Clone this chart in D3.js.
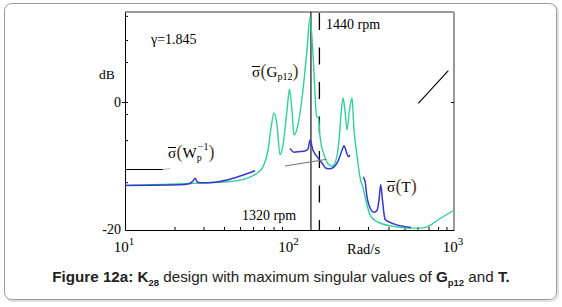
<!DOCTYPE html>
<html>
<head>
<meta charset="utf-8">
<script src="https://cdnjs.cloudflare.com/ajax/libs/d3/7.8.5/d3.min.js"></script>
<style>
  body { margin: 0; background: #fff; }
  svg { display: block; }
</style>
</head>
<body>
<div id="chart"></div>
<script>
// [rad/s, dB]
const sigmaGp12 = [
  [10, -13.0], [24.8, -12.7], [43.5, -12.4], [57.5, -11.7], [63.4, -11.1], [69.0, -10.1],
  [74.0, -7.5], [77.2, -4.0], [80.5, -1.65], [83.9, -3.5], [87.6, -8.2], [91.3, -6.7],
  [96.6, -1.2], [100, 2.1], [103.5, -1.2], [106.5, -5.1], [112.6, -3.5], [120.8, 2.0],
  [127.7, 8.2], [133.3, 13.4], [139.0, 7.5], [146.3, -2.2], [150.1, -2.4], [153.2, -5.3],
  [162.1, -8.2], [171.4, -9.6], [181.2, -10.0], [191.7, -9.0], [200, -5.9], [205.6, -2.0],
  [211.4, 0.7], [217.3, -1.2], [223.7, -4.3], [231.5, -1.2], [239.9, 0.7], [246.7, -4.3],
  [256.2, -7.9], [268.5, -11.8], [280, -13.4], [294.6, -15.9], [308.4, -17.6], [331, -18.5],
  [354.8, -18.9], [448.7, -19.5], [540.6, -19.7], [621, -19.7], [685, -19.5], [822, -18.2],
  [1000, -16.9]
];

// sigma(T) is drawn in three pieces in the original
const sigmaT1 = [
  [10, -13.0], [21.6, -12.9], [24.8, -12.7], [25.9, -12.3], [26.7, -11.9], [27.4, -12.4],
  [28.6, -12.6], [35.2, -12.5], [46.6, -11.8], [61.7, -10.7]
];
const sigmaT2 = [
  [100.7, -7.2], [106.5, -7.8], [115.9, -7.7], [124.3, -7.6], [129.5, -7.3], [133.3, -5.9],
  [139.0, -7.5], [147.0, -8.5], [157.6, -9.5], [166.8, -10.3], [176.3, -10.4], [186.5, -10.1],
  [197.3, -9.2], [208.5, -7.5], [214.4, -6.8], [222.6, -7.9], [228.4, -8.5], [233.3, -8.2]
];
const sigmaT3 = [
  [280, -11.7], [287.6, -12.3], [295.8, -14.8], [308.4, -16.5], [326.6, -17.2], [340.4, -16.9],
  [350, -15.3], [358.4, -12.9], [367.4, -15.3], [380.7, -18.3], [408.3, -18.8], [450, -19.2],
  [547.6, -19.6]
];

// inverse performance weight, only partly visible
const wpInvA = [[10, -10.5], [17.0, -10.5]];
const wpInvB = [[17.0, -10.5], [18.8, -10.35]];
const wpInvC = [[93.9, -9.96], [168.3, -8.91]];
const wpInvD = [[606.7, -0.13], [923.6, 4.99]];

const rpmLines = [135, 152]; // 1320 rpm (solid), 1440 rpm (dashed)
const xMajor = [10, 100, 1000];
const xMinor = [20, 30, 40, 50, 60, 70, 80, 90, 200, 300, 400, 500, 600, 700, 800, 900];
const yLabels = [0, -20];
const yMinor = [13.6, 9.8, 6.35, -1.8, -5.9, -12.5];

const W = 562, H = 307;
const svg = d3.select('#chart').append('svg')
  .attr('width', W)
  .attr('height', H);

// outer card
svg.append('rect')
  .attr('x', 6).attr('y', 5).attr('width', 552).attr('height', 296)
  .attr('rx', 7).attr('fill', 'none').attr('stroke', '#e2e2e2').attr('stroke-width', 2);
svg.append('rect')
  .attr('x', 4.5).attr('y', 3.5).attr('width', 552).attr('height', 296)
  .attr('rx', 7).attr('fill', '#fff').attr('stroke', '#9a9a9a').attr('stroke-width', 1);

const x = d3.scaleLog().domain([10, 1000]).range([125, 454]);
const y = d3.scaleLinear().domain([-20, 14.2]).range([230, 12]);

const serif = '"Liberation Serif", "Times New Roman", serif';

// frame: top and right in grey
svg.append('line')
  .attr('x1', x(10)).attr('x2', x(1000)).attr('y1', y(14.2)).attr('y2', y(14.2))
  .attr('stroke', '#7a7a7a').attr('stroke-width', 1.6);
svg.append('line')
  .attr('x1', x(1000)).attr('x2', x(1000)).attr('y1', y(14.2)).attr('y2', y(-20))
  .attr('stroke', '#9a9a9a').attr('stroke-width', 2);

// axes, ticks point inside
const xAxis = d3.axisBottom(x).tickValues(xMinor).tickSize(-3).tickSizeOuter(0).tickFormat('');
svg.append('g').attr('transform', `translate(0,${y(-20)})`).call(xAxis)
  .call(g => g.select('.domain').attr('stroke', '#000'));

const yAxis = d3.axisLeft(y).tickValues(yMinor).tickSize(-3).tickSizeOuter(0).tickFormat('');
svg.append('g').attr('transform', `translate(${x(10)},0)`).call(yAxis)
  .call(g => g.select('.domain').attr('stroke', '#000'));

// 0 dB tick on both sides
svg.append('line').attr('x1', x(10) - 3).attr('x2', x(10) + 3)
  .attr('y1', y(0)).attr('y2', y(0)).attr('stroke', '#000');
svg.append('line').attr('x1', x(1000) - 3).attr('x2', x(1000))
  .attr('y1', y(0)).attr('y2', y(0)).attr('stroke', '#000');

// axis labels
yLabels.forEach(v => {
  svg.append('text')
    .attr('x', x(10) - 4).attr('y', y(v) + 4)
    .attr('text-anchor', 'end').attr('font-family', serif).attr('font-size', 14)
    .text(v === 0 ? '0' : '-20');
});

xMajor.forEach(v => {
  const t = svg.append('text')
    .attr('x', x(v) - 1).attr('y', 252)
    .attr('text-anchor', 'middle').attr('font-family', serif).attr('font-size', 15);
  t.append('tspan').text('10');
  t.append('tspan').attr('font-size', 11).attr('dy', -7).text(Math.log10(v));
});

svg.append('text').attr('x', 347).attr('y', 254)
  .attr('font-family', serif).attr('font-size', 14.5).text('Rad/s');
svg.append('text').attr('x', 99).attr('y', 79)
  .attr('font-family', serif).attr('font-size', 13.5).text('dB');
svg.append('text').attr('x', 151).attr('y', 44)
  .attr('font-family', serif).attr('font-size', 14).text('γ=1.845');

// rpm markers
svg.append('line')
  .attr('x1', x(rpmLines[0])).attr('x2', x(rpmLines[0]))
  .attr('y1', y(14.2)).attr('y2', y(-20))
  .attr('stroke', '#000').attr('stroke-width', 1.1);
svg.append('line')
  .attr('x1', x(rpmLines[1])).attr('x2', x(rpmLines[1]))
  .attr('y1', y(14.2) + 1).attr('y2', y(-20))
  .attr('stroke', '#000').attr('stroke-width', 1.3)
  .attr('stroke-dasharray', '17,17.5');
svg.append('text').attr('x', 326).attr('y', 29)
  .attr('font-family', serif).attr('font-size', 14).text('1440 rpm');
svg.append('text').attr('x', 242).attr('y', 220)
  .attr('font-family', serif).attr('font-size', 14).text('1320 rpm');

// curves
const line = d3.line().x(d => x(d[0])).y(d => y(d[1])).curve(d3.curveMonotoneX);

svg.append('path').datum(sigmaGp12)
  .attr('d', line).attr('fill', 'none')
  .attr('stroke', '#2dcf9c').attr('stroke-width', 1.4);

[sigmaT1, sigmaT2, sigmaT3].forEach(seg => {
  svg.append('path').datum(seg)
    .attr('d', line).attr('fill', 'none')
    .attr('stroke', '#3838c8').attr('stroke-width', 1.5);
});

svg.append('path').datum(wpInvA).attr('d', line).attr('fill', 'none')
  .attr('stroke', '#000').attr('stroke-width', 1.1);
svg.append('path').datum(wpInvB).attr('d', line).attr('fill', 'none')
  .attr('stroke', '#b5b5b5').attr('stroke-width', 1);
svg.append('path').datum(wpInvC).attr('d', line).attr('fill', 'none')
  .attr('stroke', '#707070').attr('stroke-width', 1);
svg.append('path').datum(wpInvD).attr('d', line).attr('fill', 'none')
  .attr('stroke', '#000').attr('stroke-width', 1.1);

// sigma-bar labels
function sigmaLabel(x0, y0, parts) {
  const g = svg.append('g');
  const s = g.append('text').attr('x', x0).attr('y', y0)
    .attr('font-family', serif).attr('font-size', 15).text('σ');
  const w = s.node().getComputedTextLength();
  g.append('line')
    .attr('x1', x0).attr('x2', x0 + w)
    .attr('y1', y0 - 10.5).attr('y2', y0 - 10.5)
    .attr('stroke', '#000').attr('stroke-width', 1);
  const t = g.append('text').attr('x', x0 + w + 0.5).attr('y', y0).attr('font-family', serif);
  parts.forEach(p => {
    t.append('tspan')
      .attr('font-size', p.size || 15)
      .attr('dx', p.dx || 0)
      .attr('dy', p.dy || 0)
      .attr('fill', p.fill || '#000')
      .text(p.t);
  });
}

const paren = '#4a3a2a';
sigmaLabel(252, 77, [
  { t: '(', size: 18, fill: paren }, { t: 'G' },
  { t: 'p12', size: 10, dy: 3 }, { t: ')', size: 18, dy: -3, fill: paren }
]);
sigmaLabel(168, 158, [
  { t: '(', size: 18, fill: paren }, { t: 'W' },
  { t: 'p', size: 10, dy: 3 }, { t: '−1', size: 10, dx: -4, dy: -11 },
  { t: ')', size: 18, dy: 8, fill: paren }
]);
sigmaLabel(387, 192, [
  { t: '(', size: 18, fill: paren }, { t: 'T' }, { t: ')', size: 18, fill: paren }
]);

// caption
const sans = '"Liberation Sans", Arial, Helvetica, sans-serif';
const cap = svg.append('text')
  .attr('x', 281).attr('y', 282)
  .attr('text-anchor', 'middle')
  .attr('font-family', sans).attr('font-size', 15.2).attr('fill', '#222');
cap.append('tspan').attr('font-weight', 'bold').text('Figure 12a: K');
cap.append('tspan').attr('font-weight', 'bold').attr('font-size', 9.5).attr('dy', 4).text('28');
cap.append('tspan').attr('dy', -4).text(' design with maximum singular values of ');
cap.append('tspan').attr('font-weight', 'bold').text('G');
cap.append('tspan').attr('font-weight', 'bold').attr('font-size', 9.5).attr('dy', 4).text('p12');
cap.append('tspan').attr('dy', -4).text(' and ');
cap.append('tspan').attr('font-weight', 'bold').text('T.');
</script>
</body>
</html>
